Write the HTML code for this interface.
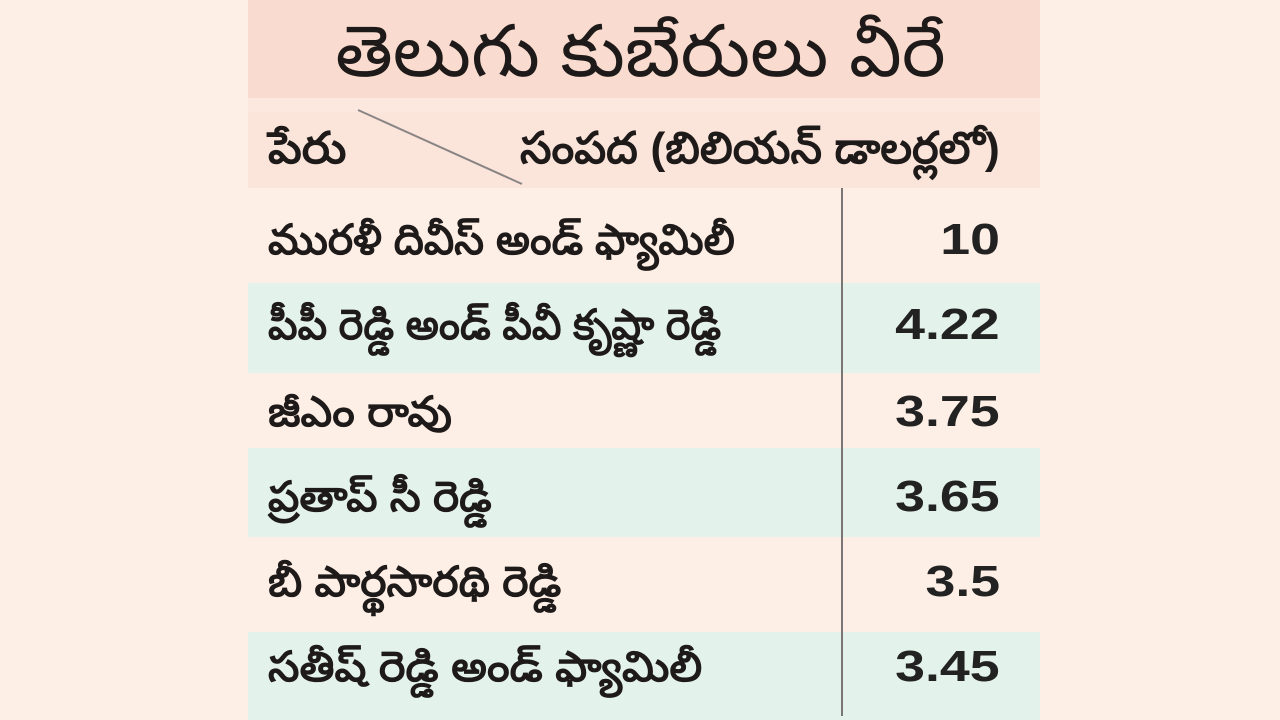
<!DOCTYPE html>
<html>
<head>
<meta charset="utf-8">
<style>
html,body{margin:0;padding:0;}
body{width:1280px;height:720px;background:#fdefe6;position:relative;overflow:hidden;font-family:"Liberation Sans","Noto Sans CJK JP",sans-serif;color:#1f1a1a;}
.band{position:absolute;left:248px;width:792px;}
.title{top:0;height:98px;background:#f9dccf;}
.gap{top:98px;height:14px;background:#fde8e0;}
.head{top:112px;height:76px;background:#fbe5db;}
.g{background:#e3f2ea;}
.t{position:absolute;white-space:nowrap;}
.title-t{left:0;width:1280px;text-align:center;top:10px;font-size:72px;line-height:84px;font-weight:normal;}
.title-t span{display:inline-block;transform:scaleX(1.03);}
.name{left:268px;font-size:42px;font-weight:bold;line-height:50px;transform-origin:left center;}
.num{right:280px;font-size:44px;font-weight:bold;line-height:50px;transform:scaleX(1.22);transform-origin:right center;color:#222;}
.hd{font-size:44px;line-height:52px;font-weight:bold;top:123px;transform-origin:left center;}
</style>
</head>
<body>
<div class="band title"></div>
<div class="band gap"></div>
<div class="band head"></div>
<div class="band g" style="top:283px;height:90px;"></div>
<div class="band g" style="top:448px;height:89px;"></div>
<div class="band g" style="top:632px;height:88px;"></div>

<svg style="position:absolute;left:0;top:0" width="1280" height="720">
  <line x1="358" y1="110" x2="522" y2="184" stroke="#8a8585" stroke-width="2"/>
  <line x1="842" y1="188" x2="842" y2="716" stroke="#7a7676" stroke-width="2"/>
</svg>

<div class="t title-t"><span>తెలుగు కుబేరులు వీరే</span></div>
<div class="t hd" style="left:268px;transform:scaleX(1.08);">పేరు</div>
<div class="t hd" style="left:520px;transform:scaleX(1.02);">సంపద (బిలియన్ డాలర్లలో)</div>

<div class="t name" style="top:215px;transform:scaleX(1.015);">మురళీ దివీస్ అండ్ ఫ్యామిలీ</div>
<div class="t num" style="top:215px;">10</div>

<div class="t name" style="top:300px;transform:scaleX(0.99);">పీపీ రెడ్డి అండ్ పీవీ కృష్ణా రెడ్డి</div>
<div class="t num" style="top:300px;">4.22</div>

<div class="t name" style="top:387px;transform:scaleX(1.06);">జీఎం రావు</div>
<div class="t num" style="top:387px;">3.75</div>

<div class="t name" style="top:472px;transform:scaleX(1.05);">ప్రతాప్ సీ రెడ్డి</div>
<div class="t num" style="top:472px;">3.65</div>

<div class="t name" style="top:557px;transform:scaleX(1.056);">బీ పార్థసారథి రెడ్డి</div>
<div class="t num" style="top:557px;">3.5</div>

<div class="t name" style="top:642px;transform:scaleX(1.067);">సతీష్ రెడ్డి అండ్ ఫ్యామిలీ</div>
<div class="t num" style="top:642px;">3.45</div>
</body>
</html>
